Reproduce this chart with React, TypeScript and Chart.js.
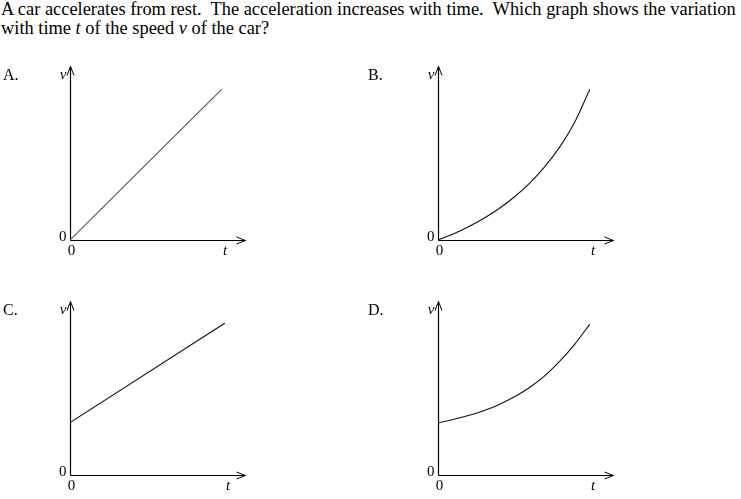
import React, { useEffect, useRef } from "react";
import { Chart, registerables } from "chart.js";

Chart.register(...registerables);

// ---- data ----
const questionLine1 = "A car accelerates from rest.  The acceleration increases with time.  Which graph shows the variation";
const questionLine2Parts = ["with time ", "t", " of the speed ", "v", " of the car?"];

const panelLetters = ["A.", "B.", "C.", "D."];
const xAxisTitle = "t";
const yAxisTitle = "v";
const xZeroLabel = "0";
const yZeroLabel = "0";

const tA = [0, 1];
const vA = [0, 1];

const tB = [0, 0.1, 0.2, 0.3, 0.4, 0.5, 0.6, 0.7, 0.8, 0.9, 1];
const vB = [0, 0.04, 0.088, 0.143, 0.207, 0.283, 0.373, 0.482, 0.615, 0.782, 1];

const tC = [0, 1];
const vC = [0.345, 1];

const tD = [0, 0.1, 0.2, 0.3, 0.4, 0.5, 0.6, 0.7, 0.8, 0.9, 1];
const vD = [0.345, 0.368, 0.394, 0.426, 0.466, 0.516, 0.578, 0.655, 0.752, 0.867, 1];

// ---- layout ----
type Panel = {
  letter: string;
  t: number[];
  v: number[];
  curved: boolean;
  left: number;
  top: number;
  padRight: number;
  padTop: number;
  letterX: number;
  color: string;
};

const PANELS: Panel[] = [
  { letter: panelLetters[0], t: tA, v: vA, curved: false, left: 0, top: 60, padRight: 38, padTop: 29, letterX: 3, color: "#555" },
  { letter: panelLetters[1], t: tB, v: vB, curved: true, left: 368, top: 60, padRight: 38, padTop: 29, letterX: 0, color: "#111" },
  { letter: panelLetters[2], t: tC, v: vC, curved: false, left: 0, top: 295, padRight: 35, padTop: 28, letterX: 3, color: "#111" },
  { letter: panelLetters[3], t: tD, v: vD, curved: true, left: 368, top: 295, padRight: 38, padTop: 29, letterX: 0, color: "#111" },
];

const CW = 260;
const CH = 200;
const PAD_LEFT = 70;
const PAD_BOTTOM = 20;
const FONT = '"Liberation Serif", "Times New Roman", serif';

function makeAxesPlugin(p: Panel) {
  return {
    id: "axesArrows",
    beforeDatasetsDraw(chart: any) {
      const ctx = chart.ctx as CanvasRenderingContext2D;
      const xs = chart.scales.x;
      const ys = chart.scales.y;
      const ox = Math.round(xs.getPixelForValue(0)) + 0.5;
      const oy = Math.round(ys.getPixelForValue(0)) + 0.5;
      const yTip = oy - 174;
      const xTip = ox + 175;
      ctx.save();
      ctx.strokeStyle = "#000";
      ctx.lineWidth = 1.2;
      ctx.beginPath();
      ctx.moveTo(ox, oy);
      ctx.lineTo(ox, yTip);
      ctx.moveTo(ox, oy);
      ctx.lineTo(xTip, oy);
      ctx.stroke();
      ctx.lineWidth = 1;
      ctx.beginPath();
      ctx.moveTo(ox - 3.5, yTip + 9);
      ctx.lineTo(ox, yTip);
      ctx.lineTo(ox + 3.5, yTip + 9);
      ctx.moveTo(xTip - 9, oy - 3.5);
      ctx.lineTo(xTip, oy);
      ctx.lineTo(xTip - 9, oy + 3.5);
      ctx.stroke();

      ctx.fillStyle = "#000";
      ctx.textBaseline = "alphabetic";
      ctx.font = `15px ${FONT}`;
      ctx.textAlign = "right";
      ctx.fillText(yZeroLabel, ox - 4, oy);
      ctx.textAlign = "center";
      ctx.fillText(xZeroLabel, ox + 1, oy + 14);
      ctx.font = `italic 15px ${FONT}`;
      ctx.textAlign = "center";
      ctx.fillText(xAxisTitle, xs.getPixelForValue(1) + 3, oy + 14);
      ctx.textAlign = "right";
      ctx.fillText(yAxisTitle, ox - 4, yTip + 12);
      ctx.font = `16px ${FONT}`;
      ctx.textAlign = "left";
      ctx.fillText(p.letter, p.letterX, yTip + 13);
      ctx.restore();
    },
  };
}

function PanelChart({ p }: { p: Panel }) {
  const ref = useRef<HTMLCanvasElement | null>(null);
  useEffect(() => {
    let chart: Chart | null = null;
    let cancelled = false;
    const build = () => {
      if (cancelled || !ref.current) return;
      const data = p.t.map((t, i) => ({ x: t, y: p.v[i] }));
      chart = new Chart(ref.current, {
        type: "line",
        data: {
          datasets: [
            {
              data,
              borderColor: p.color,
              borderWidth: 1.1,
              pointRadius: 0,
              fill: false,
              cubicInterpolationMode: p.curved ? "monotone" : "default",
              tension: 0,
            },
          ],
        },
        options: {
          responsive: false,
          animation: false,
          devicePixelRatio: 1,
          layout: { padding: { left: PAD_LEFT, right: p.padRight, top: p.padTop, bottom: PAD_BOTTOM } },
          plugins: { legend: { display: false }, tooltip: { enabled: false } },
          scales: {
            x: { type: "linear", min: 0, max: 1, display: false },
            y: { type: "linear", min: 0, max: 1, display: false },
          },
        },
        plugins: [makeAxesPlugin(p)],
      } as any);
    };
    const fonts: any = (document as any).fonts;
    if (fonts && fonts.load) {
      Promise.all([
        fonts.load(`15px "Liberation Serif"`),
        fonts.load(`italic 15px "Liberation Serif"`),
        fonts.load(`16px "Liberation Serif"`),
      ])
        .catch(() => null)
        .then(build);
    } else {
      build();
    }
    return () => {
      cancelled = true;
      if (chart) chart.destroy();
    };
  }, [p]);
  return (
    <canvas
      ref={ref}
      width={CW}
      height={CH}
      style={{ position: "absolute", left: p.left, top: p.top, width: CW, height: CH }}
    />
  );
}

export default function App() {
  useEffect(() => {
    document.body.style.margin = "0";
    document.body.style.background = "#fff";
  }, []);
  return (
    <div style={{ position: "absolute", left: 0, top: 0, width: 741, height: 499, background: "#fff", overflow: "hidden" }}>
      <div
        style={{
          position: "absolute",
          left: 1,
          top: 0,
          fontFamily: FONT,
          fontSize: 18.4,
          lineHeight: "19px",
          whiteSpace: "pre",
          color: "#000",
        }}
      >
        <div>{questionLine1}</div>
        <div>
          {questionLine2Parts.map((s, i) => (i % 2 === 1 ? <i key={i}>{s}</i> : <span key={i}>{s}</span>))}
        </div>
      </div>
      {PANELS.map((p) => (
        <PanelChart key={p.letter} p={p} />
      ))}
    </div>
  );
}
